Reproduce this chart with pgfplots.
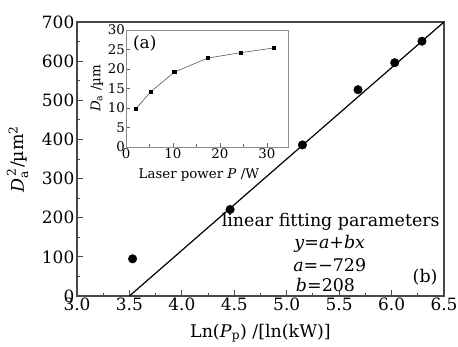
\documentclass[border=0pt]{standalone}
\usepackage{fontspec}
\setmainfont{DejaVu Serif}
\usepackage{amsmath}
\usepackage{pgfplots}
\pgfplotsset{compat=1.18}
\newcommand{\fs}[1]{\fontsize{#1}{#1}\selectfont}
\begin{document}
\begin{tikzpicture}
\begin{axis}[
 at={(0,0)}, anchor=south west,
 scale only axis, width=367bp, height=274bp,
 xmin=3, xmax=6.5, ymin=0, ymax=700,
 xtick={3,3.5,4,4.5,5,5.5,6,6.5}, ytick={0,100,...,700},
 /pgf/number format/assume math mode=true,
 xticklabel style={inner sep=1.5bp, /pgf/number format/fixed, /pgf/number format/fixed zerofill, /pgf/number format/precision=1},
 minor x tick num=1, minor y tick num=1,
 tick align=inside, xtick pos=bottom, ytick pos=left,
 major tick length=6bp, minor tick length=3.5bp,
 axis line style={line width=1.3pt, black!72},
 every tick/.style={black!72, line width=1pt},
 ticklabel style={font=\fs{17}},
 yticklabel style={inner sep=2.5bp},
 label style={font=\fs{17.5}},
 xlabel={Ln(\textit{P}\textsubscript{p}) /[ln(kW)]},
 ylabel={$\text{\textit{D}}_{\text{a}}^{\,\text{2}}$/µm$^{\text{2}}$},
 xlabel style={at={(axis description cs:0.5,-0.135)}, anchor=center},
 ylabel style={at={(axis description cs:-0.162,0.5)}, anchor=center},
 clip=false,
]
\addplot[black, line width=1.2pt] coordinates {(3.5,0) (6.5,700)};
\addplot[only marks, mark=*, mark size=4.3pt, black] coordinates {
 (3.53,95) (4.46,221) (5.15,386) (5.68,527) (6.03,596) (6.29,651)};
\node[font=\fs{17.5}, anchor=center] at (axis cs:5.42,189) {linear fitting parameters};
\node[font=\fs{17.5}, anchor=center] at (axis cs:5.41,133) {\textit{y}=\textit{a}+\textit{bx}};
\node[font=\fs{17.5}, anchor=center] at (axis cs:5.41,79) {\textit{a}=−729};
\node[font=\fs{17.5}, anchor=center] at (axis cs:5.37,28) {\textit{b}=208};
\node[font=\fs{17.5}, anchor=center] at (axis cs:6.32,48) {(b)};
\end{axis}
\begin{axis}[
 at={(49bp,149bp)}, anchor=south west,
 scale only axis, width=162bp, height=117bp,
 xmin=0, xmax=34.5, ymin=0, ymax=30,
 xtick={0,10,20,30}, ytick={0,5,...,30},
 /pgf/number format/assume math mode=true,
 minor x tick num=1,
 tick align=inside, xtick pos=bottom, ytick pos=left,
 major tick length=4bp, minor tick length=2.5bp,
 axis line style={line width=0.7pt, black!45},
 every tick/.style={black!60, line width=0.6pt},
 axis background/.style={fill=white},
 ticklabel style={font=\fs{13.4}},
 xticklabel style={inner sep=1bp},
 yticklabel style={inner sep=1bp},
 label style={font=\fs{13.4}},
 xlabel={Laser power \textit{P} /W},
 ylabel={$\text{\textit{D}}_{\text{a}}$ /µm},
 xlabel style={at={(axis description cs:0.45,-0.24)}, anchor=center},
 ylabel style={at={(axis description cs:-0.18,0.5)}, anchor=center},
]
\addplot[black!65, line width=0.6pt, mark=square*, mark size=1.6pt, mark options={black}] coordinates {
 (2.1,9.8) (5.3,14.2) (10.3,19.2) (17.4,22.8) (24.5,24.2) (31.5,25.4)};
\node[font=\fs{17}, anchor=center] at (axis cs:4.0,26.6) {(a)};
\end{axis}
\pgfresetboundingbox
\path (-77bp,-51bp) rectangle (381bp,296bp);
\end{tikzpicture}
\end{document}
